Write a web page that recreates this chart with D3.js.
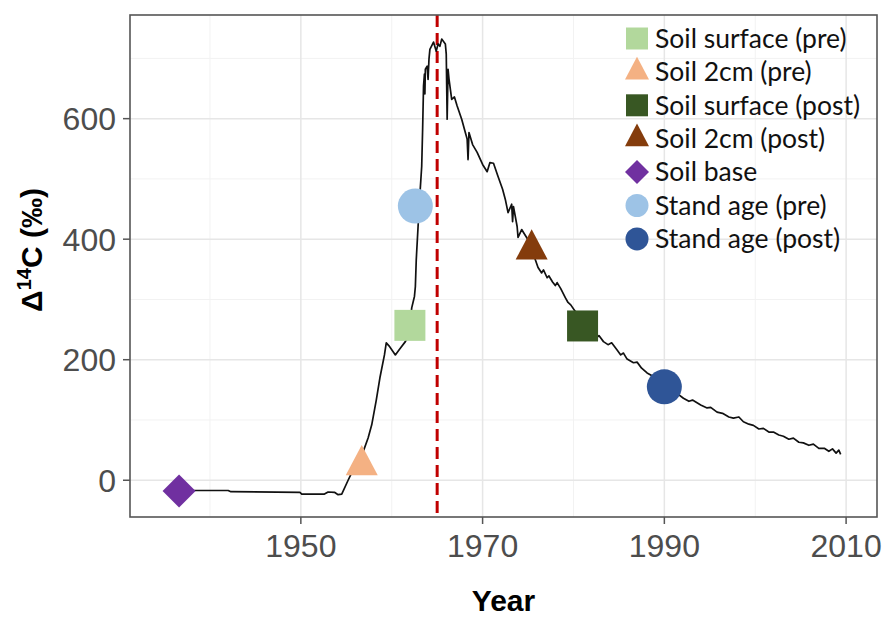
<!DOCTYPE html>
<html>
<head>
<meta charset="utf-8">
<script src="https://cdn.jsdelivr.net/npm/d3@7"></script>
<style>
  body { margin: 0; background: #fff; }
  svg { display: block; }
</style>
</head>
<body>
<svg width="883" height="618"></svg>
<script>
// atmospheric bomb curve
var curveYears = [1936.6, 1942.0, 1942.3, 1949.9, 1950.1, 1952.6, 1953.0, 1953.7, 1954.1, 1954.5,
  1955.2, 1956.0, 1956.8, 1957.4, 1957.8, 1958.3, 1958.7, 1959.2, 1959.4, 1959.7,
  1960.4, 1960.9, 1961.5, 1961.9, 1962.2, 1962.5, 1962.6, 1962.7, 1962.9, 1963.1,
  1963.3, 1963.4, 1963.5, 1963.6, 1963.65, 1963.7, 1963.9, 1964.0, 1964.1, 1964.2,
  1964.6, 1964.9, 1965.1, 1965.3, 1965.5, 1965.9, 1966.0, 1966.1, 1966.2, 1966.3,
  1966.6, 1966.9, 1967.2, 1967.7, 1968.1, 1968.3, 1968.4, 1968.5, 1968.9, 1969.4,
  1970.0, 1970.5, 1970.8, 1971.2, 1971.7, 1972.2, 1972.5, 1972.8, 1973.2, 1973.3,
  1973.4, 1973.8, 1973.9, 1974.3, 1974.5, 1975.0, 1975.5, 1976.1, 1976.5, 1976.7,
  1977.1, 1977.3, 1977.7, 1978.0, 1978.2, 1978.6, 1979.1, 1979.4, 1979.7, 1980.2,
  1981.0, 1982.5, 1982.8, 1983.3, 1983.8, 1984.2, 1984.8, 1985.2, 1985.5, 1985.9,
  1986.6, 1987.0, 1987.5, 1988.1, 1988.7, 1990.1, 1990.9, 1991.5, 1992.1, 1992.7,
  1993.1, 1994.0, 1994.7, 1995.1, 1995.8, 1996.4, 1997.1, 1997.6, 1998.2, 1998.7,
  1999.3, 1999.8, 2000.4, 2000.9, 2001.5, 2002.0, 2002.6, 2003.1, 2003.7, 2004.2,
  2004.8, 2005.3, 2005.9, 2006.4, 2007.0, 2007.6, 2008.1, 2008.5, 2008.9, 2009.2, 2009.4];
var curveDelta = [-17, -17, -19, -20, -23, -23, -19.5, -20, -24, -23,
  0, 25, 45, 70, 92, 133, 170, 208, 228, 223,
  208, 218, 230, 241, 286, 305, 321, 366, 421, 474,
  521, 582, 654, 674, 641, 682, 687, 665, 699, 715,
  727, 712, 724, 720, 732, 724, 707, 599, 682, 666,
  632, 636, 621, 599, 577, 566, 532, 577, 557, 544,
  524, 512, 527, 526, 504, 483, 466, 444, 458, 429,
  454, 421, 403, 416, 411, 399, 379, 353, 344, 349,
  336, 339, 329, 323, 328, 318, 303, 295, 291, 280,
  256, 236, 240, 230, 225, 228, 216, 208, 211, 201,
  195, 196, 186, 178, 173, 155, 146, 143, 136, 131,
  133, 125, 120, 121, 113, 111, 105, 103, 105, 97,
  93, 91, 85, 86, 80, 80, 75, 73, 68, 70,
  63, 62, 58, 60, 53, 53, 48, 52, 45, 50, 43];

// sample points
var sampleNames = ["Soil surface (pre)", "Soil 2cm (pre)", "Soil surface (post)", "Soil 2cm (post)",
  "Soil base", "Stand age (pre)", "Stand age (post)"];
var sampleYears = [1962.0, 1956.7, 1981.0, 1975.4, 1936.6, 1962.6, 1990.0];
var sampleDelta = [257, 25, 256, 383, -18, 455, 155];
var sampleShapes = ["square", "triangle", "square", "triangle", "diamond", "circle", "circle"];
var sampleColors = ["#b2d89c", "#f4b183", "#385723", "#843c0c", "#7030a0", "#9dc3e6", "#2f5597"];

var peakYear = 1965;

var xTicks = [1950, 1970, 1990, 2010],
    xMinor = [1940, 1960, 1980, 2000],
    yTicks = [0, 200, 400, 600],
    yMinor = [100, 300, 500, 700];

var svg = d3.select("svg"),
    pLeft = 130, pRight = 877, pTop = 15, pBottom = 517;

var x = d3.scaleLinear().domain([1931.2, 2013.4]).range([pLeft, pRight]);
var y = d3.scaleLinear().domain([-61, 772]).range([pBottom, pTop]);

svg.append("defs").append("clipPath").attr("id", "panel")
  .append("rect").attr("x", pLeft).attr("y", pTop)
  .attr("width", pRight - pLeft).attr("height", pBottom - pTop);

var grid = svg.append("g");
grid.selectAll(".vmin").data(xMinor).enter().append("line")
    .attr("x1", x).attr("x2", x).attr("y1", pTop).attr("y2", pBottom)
    .attr("stroke", "#f2f2f2").attr("stroke-width", 1);
grid.selectAll(".hmin").data(yMinor).enter().append("line")
    .attr("y1", y).attr("y2", y).attr("x1", pLeft).attr("x2", pRight)
    .attr("stroke", "#f2f2f2").attr("stroke-width", 1);
grid.selectAll(".vmaj").data(xTicks).enter().append("line")
    .attr("x1", x).attr("x2", x).attr("y1", pTop).attr("y2", pBottom)
    .attr("stroke", "#e6e6e6").attr("stroke-width", 1.5);
grid.selectAll(".hmaj").data(yTicks).enter().append("line")
    .attr("y1", y).attr("y2", y).attr("x1", pLeft).attr("x2", pRight)
    .attr("stroke", "#e6e6e6").attr("stroke-width", 1.5);

var plot = svg.append("g").attr("clip-path", "url(#panel)");

// dashed peak line
plot.append("line")
    .attr("x1", x(peakYear)).attr("x2", x(peakYear))
    .attr("y1", pTop).attr("y2", pBottom)
    .attr("stroke", "#c00000").attr("stroke-width", 3)
    .attr("stroke-dasharray", "12,6");

var line = d3.line()
    .x(function(d, i) { return x(curveYears[i]); })
    .y(function(d) { return y(d); });

plot.append("path")
    .attr("d", line(curveDelta))
    .attr("fill", "none")
    .attr("stroke", "#111")
    .attr("stroke-width", 1.7)
    .attr("stroke-linejoin", "round");

// marker shapes, s = rough size in px
function shapePath(type, s) {
  if (type == "circle") return d3.symbol(d3.symbolCircle, Math.PI * s * s / 4)();
  if (type == "square") return d3.symbol(d3.symbolSquare, s * s)();
  if (type == "diamond") {
    var h = s / 2;
    return "M0," + (-h) + "L" + h + ",0L0," + h + "L" + (-h) + ",0Z";
  }
  // triangle, centred on its centroid
  var w = s, ht = s * 0.95;
  return "M0," + (-ht * 2 / 3) + "L" + (w / 2) + "," + (ht / 3) + "L" + (-w / 2) + "," + (ht / 3) + "Z";
}
var plotSize = { square: 31, triangle: 32, diamond: 33, circle: 35 };
var keySize = { square: 22, triangle: 24, diamond: 24, circle: 23 };

plot.selectAll(".pt").data(sampleNames).enter().append("path")
    .attr("transform", function(d, i) { return "translate(" + x(sampleYears[i]) + "," + y(sampleDelta[i]) + ")"; })
    .attr("d", function(d, i) { return shapePath(sampleShapes[i], plotSize[sampleShapes[i]]); })
    .attr("fill", function(d, i) { return sampleColors[i]; });

// panel border
svg.append("rect")
    .attr("x", pLeft).attr("y", pTop)
    .attr("width", pRight - pLeft).attr("height", pBottom - pTop)
    .attr("fill", "none").attr("stroke", "#555").attr("stroke-width", 1.6);

// axes
var tickFont = "'Liberation Sans', Arial, sans-serif";
svg.append("g").selectAll("line").data(xTicks).enter().append("line")
    .attr("x1", x).attr("x2", x).attr("y1", pBottom).attr("y2", pBottom + 7)
    .attr("stroke", "#555").attr("stroke-width", 1.5);
svg.append("g").selectAll("text").data(xTicks).enter().append("text")
    .attr("x", x).attr("y", 557)
    .attr("text-anchor", "middle")
    .attr("font-family", tickFont).attr("font-size", 32).attr("fill", "#4d4d4d")
    .text(function(d) { return d; });

svg.append("g").selectAll("line").data(yTicks).enter().append("line")
    .attr("y1", y).attr("y2", y).attr("x1", pLeft - 7).attr("x2", pLeft)
    .attr("stroke", "#555").attr("stroke-width", 1.5);
svg.append("g").selectAll("text").data(yTicks).enter().append("text")
    .attr("x", 116).attr("y", y).attr("dy", "0.36em")
    .attr("text-anchor", "end")
    .attr("font-family", tickFont).attr("font-size", 32).attr("fill", "#4d4d4d")
    .text(function(d) { return d; });

svg.append("text")
    .attr("x", (pLeft + pRight) / 2).attr("y", 611)
    .attr("text-anchor", "middle")
    .attr("font-family", tickFont).attr("font-weight", "bold").attr("font-size", 30)
    .text("Year");

var yt = svg.append("text")
    .attr("transform", "translate(42,250)rotate(-90)")
    .attr("text-anchor", "middle")
    .attr("font-family", tickFont).attr("font-weight", "bold").attr("font-size", 30);
yt.append("tspan").text("\u0394");
yt.append("tspan").attr("font-size", 20).attr("dy", -11).text("14");
yt.append("tspan").attr("dy", 11).text("C (\u2030)");

// legend
var legend = svg.append("g").selectAll("g").data(sampleNames).enter().append("g")
    .attr("transform", function(d, i) { return "translate(637," + (38.5 + i * 33.4) + ")"; });
legend.append("path")
    .attr("d", function(d, i) { return shapePath(sampleShapes[i], keySize[sampleShapes[i]]); })
    .attr("fill", function(d, i) { return sampleColors[i]; });
legend.append("text")
    .attr("x", 18).attr("dy", "0.35em")
    .attr("font-family", "Lato, 'Open Sans', sans-serif").attr("font-size", 26.5)
    .attr("fill", "#111")
    .text(function(d) { return d; });
</script>
</body>
</html>
